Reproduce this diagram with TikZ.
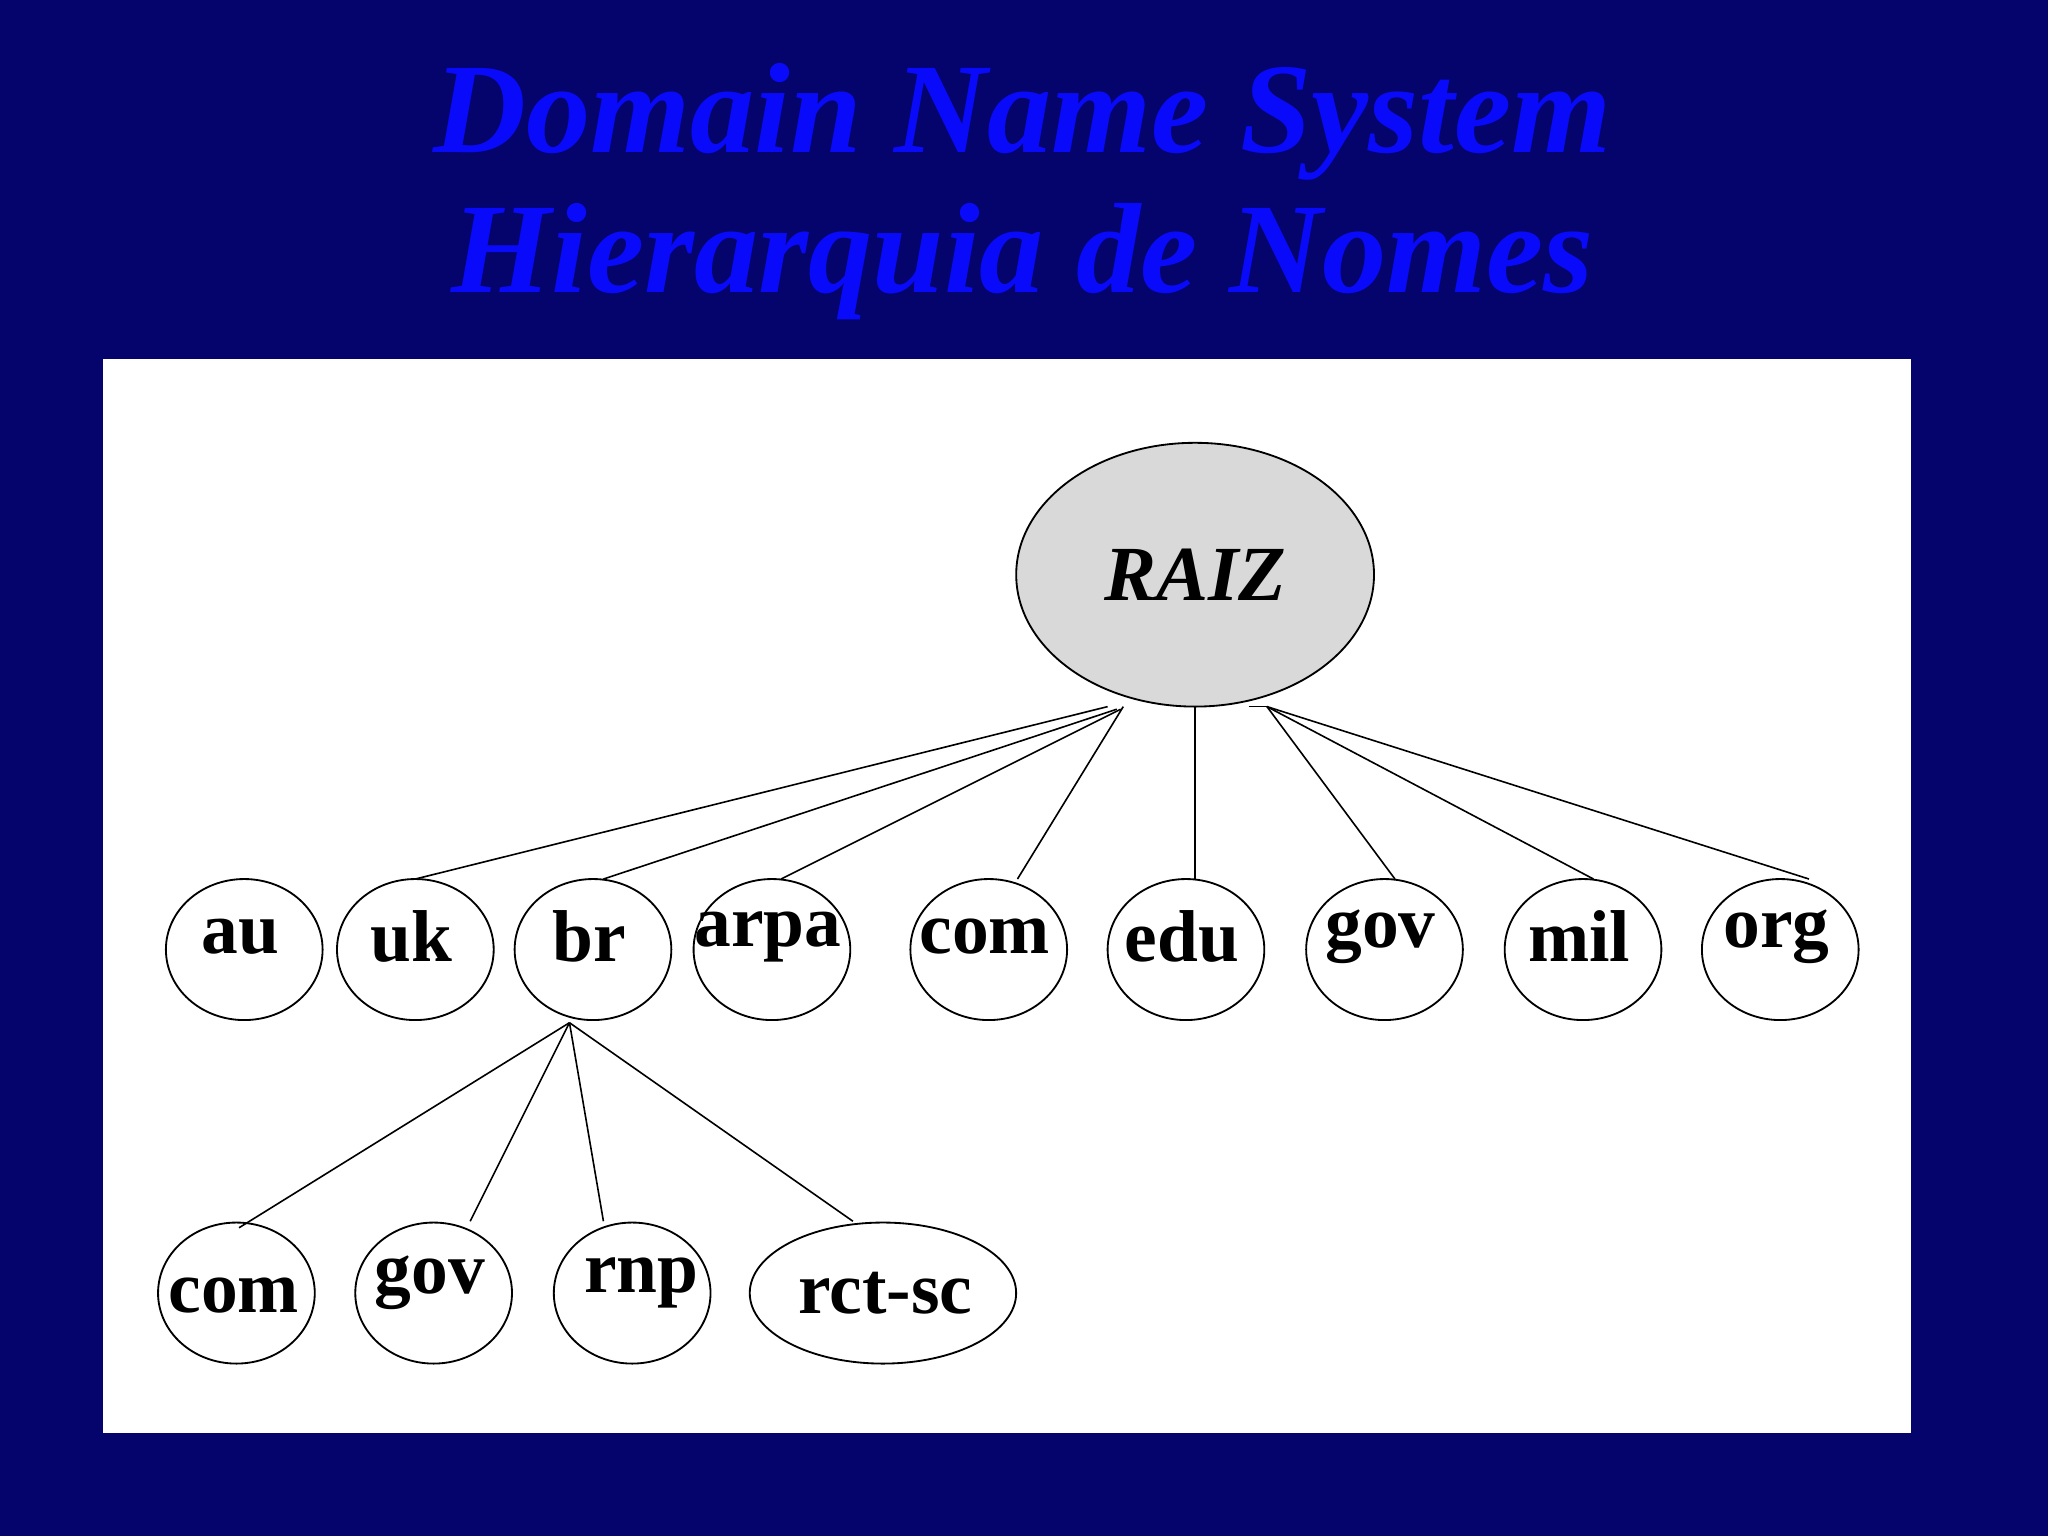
\documentclass[tikz,border=0pt]{standalone}
\usepackage{fontspec}
\setmainfont{Liberation Serif}
\usetikzlibrary{shapes.geometric}
\definecolor{navy}{RGB}{4,4,108}
\definecolor{titleblue}{RGB}{10,10,250}
\tikzset{
 dom/.style={draw,ellipse,line width=0.8pt,minimum width=2.4cm,minimum height=2.16cm,inner sep=0pt,font=\fontsize{32}{36}\selectfont\bfseries},
 edge/.style={line width=0.7pt}
}
\begin{document}
\begin{tikzpicture}[x=0.02cm,y=-0.02cm]
\fill[navy] (0,0) rectangle (1568,1176);
\node[titleblue,font=\fontsize{56}{60}\selectfont\bfseries\itshape] (t1) at (783,93) {Domain Name System};
\node[titleblue,font=\fontsize{56}{60}\selectfont\bfseries\itshape] (t2) at (783,200) {Hierarquia de Nomes};
\fill[white] (79,275) rectangle (1463,1097);
\node[draw,ellipse,fill=black!15,line width=0.8pt,minimum width=5.48cm,minimum height=4.04cm,font=\fontsize{34}{38}\selectfont\bfseries\itshape] (raiz) at (915,440) {RAIZ};
\foreach \n/\x/\t in {au/187/au,uk/318/uk,br/454/br,arpa/591/arpa,com/757/com,edu/908/edu,gov/1060/gov,mil/1212/mil,org/1363/org}{
  \node[dom] (\n) at (\x,727) {};
  \node[font=\fontsize{32}{36}\selectfont\bfseries] (\n t) at (\x-3,717) {\t};
}
\foreach \n/\x/\t in {bcom/181/com,bgov/332/gov,brnp/484/rnp}{
  \node[dom] (\n) at (\x,990) {};
}
\node[dom,minimum width=4.08cm] (brct) at (676,990) {};
\node[font=\fontsize{32}{36}\selectfont\bfseries] (bcomt) at (179,992) {com};
\node[font=\fontsize{32}{36}\selectfont\bfseries] (bgovt) at (329,982) {gov};
\node[font=\fontsize{32}{36}\selectfont\bfseries] (brnpt) at (491,982) {rnp};
\node[font=\fontsize{32}{36}\selectfont\bfseries] (brctt) at (678,990) {rct-sc};
% coordinates
\coordinate (r1) at (848,541); \coordinate (r2) at (855,543);
\coordinate (r3) at (858,543); \coordinate (r4) at (860,541);
\coordinate (r5) at (915,541); \coordinate (r6) at (970,541);
\coordinate (r7) at (956,541);
\coordinate (euk) at (318,673); \coordinate (ebr) at (462,673);
\coordinate (earpa) at (598,673); \coordinate (ecom) at (779,673);
\coordinate (eedu) at (915,673); \coordinate (egov) at (1068,673);
\coordinate (emil) at (1220,673); \coordinate (eorg) at (1385,673);
\coordinate (bb) at (436,783);
\coordinate (e1) at (183,940); \coordinate (e2) at (360,935);
\coordinate (e3) at (462,935); \coordinate (e4) at (653,935);
\draw[edge] (r1) -- (euk); \draw[edge] (r2) -- (ebr);
\draw[edge] (r3) -- (earpa); \draw[edge] (r4) -- (ecom);
\draw[edge] (r5) -- (eedu); \draw[edge] (r6) -- (egov);
\draw[edge] (r6) -- (emil); \draw[edge] (r6) -- (eorg);
\draw[edge] (r7) -- (r6);
\draw[edge] (bb) -- (e1); \draw[edge] (bb) -- (e2);
\draw[edge] (bb) -- (e3); \draw[edge] (bb) -- (e4);
\end{tikzpicture}
\end{document}
